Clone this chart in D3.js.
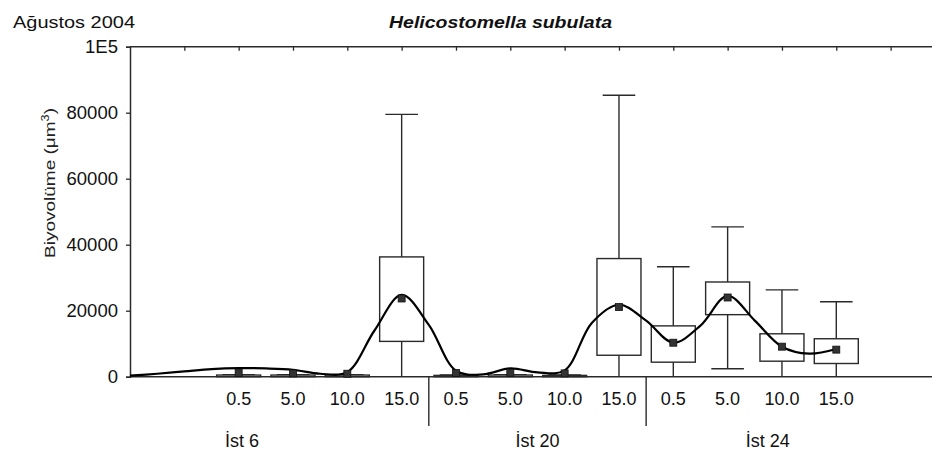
<!DOCTYPE html>
<html>
<head>
<meta charset="utf-8">
<script src="https://cdn.jsdelivr.net/npm/d3@7"></script>
<style>
  body { margin: 0; background: #fff; }
  svg { display: block; font-family: "Liberation Sans", Arial, sans-serif; }
</style>
</head>
<body>
<script>
// station / depth categories
const stations = ["İst 6", "İst 20", "İst 24"];
const depths = ["0.5", "5.0", "10.0", "15.0"];

// box plot values per category (station x depth, in order)
const boxLow   = [0, 0, 0, 0,      0, 0, 0, 0,      0, 2400, 0, 0];
const boxQ1    = [0, 0, 0, 10700,  0, 0, 0, 6500,   4400, 18800, 4700, 4000];
const boxQ3    = [500, 500, 500, 36300,  400, 500, 400, 35800,  15400, 28700, 13000, 11500];
const boxHigh  = [600, 600, 600, 79500,  500, 600, 500, 85300,  33300, 45400, 26300, 22700];
const meanVals = [1100, 1000, 900, 23700,  1100, 1200, 1000, 21100,  10300, 24000, 9100, 8200];

// smoothed curve (category position, value)
const curvePos = [-2, -1.5, -1, -0.5, 0, 0.5, 1, 1.5, 2, 2.5, 3, 3.5, 4, 4.5, 5, 5.5, 6, 6.5, 7, 7.5, 8, 8.5, 9, 9.5, 10, 10.5, 11];
const curveVal = [300, 900, 1600, 2300, 2600, 2500, 2100, 900, 1400, 14000, 24800, 15700, 1800, 700, 2500, 1300, 1900, 16300, 21800, 17000, 10300, 15500, 24500, 17000, 9100, 7000, 8400];

const yTicks = [0, 20000, 40000, 60000, 80000, 100000];
const yTickLabels = ["0", "20000", "40000", "60000", "80000", "1E5"];

const W = 932, H = 453;
const plotLeft = 130, plotTop = 46.7, plotBottom = 376.7;
const step = 54.33;

const svg = d3.select("body").append("svg")
  .attr("width", W)
  .attr("height", H);

// scales: category index 0..11, with two empty slots before and after
const x = d3.scaleLinear().domain([-2, 13]).range([plotLeft, plotLeft + 15 * step]);
const y = d3.scaleLinear().domain([0, 100000]).range([plotBottom, plotTop]);

const ink = "#2a2a2a";
const cats = d3.range(stations.length * depths.length);

// titles
svg.append("text")
  .attr("x", 13).attr("y", 27.5)
  .attr("font-size", 17)
  .attr("textLength", 122).attr("lengthAdjust", "spacingAndGlyphs")
  .attr("fill", "#111")
  .text("Ağustos 2004");

svg.append("text")
  .attr("x", 389).attr("y", 28)
  .attr("font-size", 17)
  .attr("font-weight", "bold").attr("font-style", "italic")
  .attr("textLength", 223).attr("lengthAdjust", "spacingAndGlyphs")
  .attr("fill", "#111")
  .text("Helicostomella subulata");

// y axis label
const yl = svg.append("text")
  .attr("transform", "translate(55,258) rotate(-90)")
  .attr("font-size", 15)
  .attr("textLength", 150).attr("lengthAdjust", "spacingAndGlyphs")
  .attr("fill", "#222");
yl.append("tspan").text("Biyovolüme (μm");
yl.append("tspan").attr("font-size", 10).attr("dy", -6).text("3");
yl.append("tspan").attr("dy", 6).text(")");

// left axis
const yAxis = d3.axisLeft(y).tickValues(yTicks).tickFormat((d, i) => yTickLabels[i]).tickSize(4).tickPadding(8);
const gy = svg.append("g")
  .attr("transform", "translate(" + plotLeft + ",0)")
  .call(yAxis);
gy.select(".domain").attr("stroke", ink).attr("stroke-width", 1.5);
gy.selectAll(".tick line").attr("stroke", ink).attr("stroke-width", 1.3);
gy.selectAll(".tick text")
  .attr("font-size", 18.5)
  .attr("fill", "#111")
  .attr("font-family", "Liberation Sans, Arial, sans-serif");

// top axis with inward ticks
const xTop = d3.axisTop(x).tickValues(d3.range(-1, 13)).tickSize(-4).tickFormat("");
const gt = svg.append("g")
  .attr("transform", "translate(0," + plotTop + ")")
  .call(xTop);
gt.select(".domain").remove();
gt.selectAll(".tick line").attr("stroke", ink).attr("stroke-width", 1.3);
svg.append("line")
  .attr("x1", plotLeft).attr("x2", W)
  .attr("y1", plotTop).attr("y2", plotTop)
  .attr("stroke", ink).attr("stroke-width", 1.5);

// bottom baseline
svg.append("line")
  .attr("x1", plotLeft).attr("x2", W)
  .attr("y1", plotBottom).attr("y2", plotBottom)
  .attr("stroke", ink).attr("stroke-width", 1.5);

// box plots
const boxW = 0.81 * step, capW = 0.6 * step;
const boxes = svg.append("g").attr("fill", "none").attr("stroke", ink).attr("stroke-width", 1.4);

cats.forEach(i => {
  const cx = x(i);
  // whisker
  boxes.append("line")
    .attr("x1", cx).attr("x2", cx)
    .attr("y1", y(boxHigh[i])).attr("y2", y(boxLow[i]));
  boxes.append("line")
    .attr("x1", cx - capW / 2).attr("x2", cx + capW / 2)
    .attr("y1", y(boxHigh[i])).attr("y2", y(boxHigh[i]));
  if (boxLow[i] > 0) {
    boxes.append("line")
      .attr("x1", cx - capW / 2).attr("x2", cx + capW / 2)
      .attr("y1", y(boxLow[i])).attr("y2", y(boxLow[i]));
  }
  boxes.append("rect")
    .attr("x", cx - boxW / 2)
    .attr("y", y(boxQ3[i]))
    .attr("width", boxW)
    .attr("height", Math.max(0.5, y(boxQ1[i]) - y(boxQ3[i])))
    .attr("fill", "#fff");
});

// smoothed curve
const curvePts = curvePos.map((p, i) => [p, curveVal[i]]);
const line = d3.line()
  .x(d => x(d[0]))
  .y(d => y(d[1]))
  .curve(d3.curveCatmullRom.alpha(0.5));
svg.append("path")
  .attr("d", line(curvePts))
  .attr("fill", "none")
  .attr("stroke", "#000")
  .attr("stroke-width", 2.2);

// mean markers
svg.selectAll("rect.mean")
  .data(meanVals)
  .enter()
  .append("rect")
  .attr("class", "mean")
  .attr("x", (d, i) => x(i) - 3.5)
  .attr("y", d => y(d) - 3.5)
  .attr("width", 7)
  .attr("height", 7)
  .attr("fill", "#333")
  .attr("stroke", "#111")
  .attr("stroke-width", 0.8);

// depth labels
svg.selectAll("text.depth")
  .data(cats)
  .enter()
  .append("text")
  .attr("class", "depth")
  .attr("x", i => x(i))
  .attr("y", 405)
  .attr("text-anchor", "middle")
  .attr("font-size", 18)
  .attr("fill", "#111")
  .text(i => depths[i % depths.length]);

// station separators
d3.range(1, stations.length).forEach(s => {
  const sx = x(s * depths.length - 0.5);
  svg.append("line")
    .attr("x1", sx).attr("x2", sx)
    .attr("y1", plotBottom).attr("y2", 426)
    .attr("stroke", ink).attr("stroke-width", 1.4);
});

// station labels (placed where the original puts them)
const stationLabelAt = [0.06, 5.5, 9.74];
svg.selectAll("text.station")
  .data(stations)
  .enter()
  .append("text")
  .attr("class", "station")
  .attr("x", (d, i) => x(stationLabelAt[i]))
  .attr("y", 447)
  .attr("text-anchor", "middle")
  .attr("font-size", 18)
  .attr("fill", "#111")
  .text(d => d);
</script>
</body>
</html>
